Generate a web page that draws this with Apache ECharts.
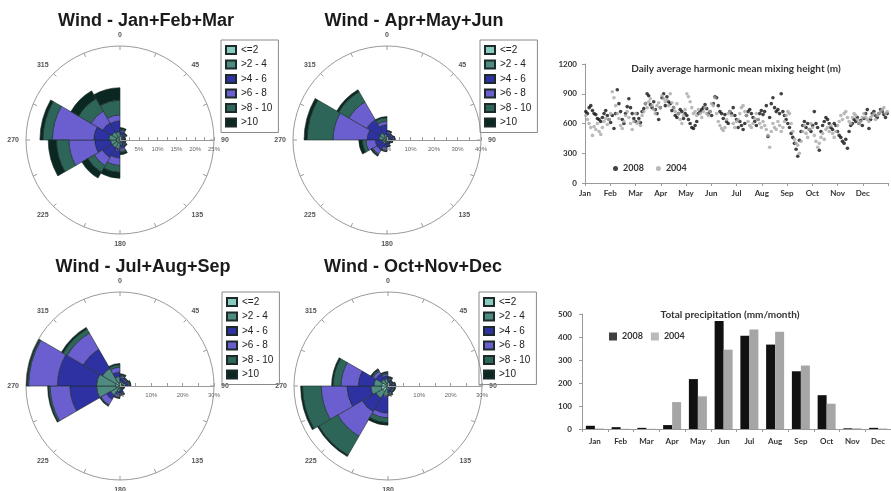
<!DOCTYPE html>
<html><head><meta charset="utf-8">
<script src="https://cdn.jsdelivr.net/npm/echarts@6/dist/echarts.min.js"></script>
<style>html,body{margin:0;padding:0;background:#fff}#c{width:891px;height:491px}</style>
</head><body><div id="c"></div>
<script>
// ---------- DATA ----------
const speedClasses = ['<=2', '>2 - 4', '>4 - 6', '>6 - 8', '>8 - 10', '>10'];
const sectorNames = ['0-30','30-60','60-90','90-120','120-150','150-180','180-210','210-240','240-270','270-300','300-330','330-360'];
const compassLabels = ['0','45','90','135','180','225','270','315'];
const roseTitles = ['Wind - Jan+Feb+Mar', 'Wind - Apr+May+Jun', 'Wind - Jul+Aug+Sep', 'Wind - Oct+Nov+Dec'];
const roseMax = [25, 40, 30, 30];
const roseStep = [5, 10, 10, 10];
// frequency (%) per sector (rows) and speed class (columns)
const roseJFM = [
  [0.6,0.8,0.8,0.4,0.3,0.4],[0.5,0.5,0.5,0.3,0.2,0.2],[0.4,0.4,0.3,0.2,0.1,0.1],[0.4,0.4,0.4,0.2,0.1,0.1],
  [0.5,0.5,0.5,0.3,0.2,0.2],[0.6,0.8,1.0,0.6,0.4,0.5],[0.8,1.5,2.5,2.0,1.8,1.6],[0.9,1.5,3.0,2.5,2.0,1.8],
  [1.0,1.5,4.2,6.9,3.3,2.2],[1.0,2.0,4.0,11.0,2.5,0.8],[1.0,1.5,2.8,3.6,3.8,2.4],[0.8,1.4,2.9,1.6,3.9,3.3]
];
const roseAMJ = [
  [0.6,0.9,1.4,0.7,0.2,0.2],[0.5,0.7,1.0,0.5,0.2,0.1],[0.6,0.8,1.2,0.6,0.2,0.1],[0.5,0.6,0.8,0.4,0.1,0.1],
  [0.4,0.5,0.6,0.3,0.1,0.1],[0.5,0.6,1.0,0.5,0.2,0.2],[0.6,0.8,2.0,1.0,0.3,0.3],[0.8,1.2,3.0,2.0,0.5,0.5],
  [0.8,1.2,3.0,4.0,1.5,1.5],[1.5,2.0,5.0,14.5,11.0,1.3],[1.5,2.0,6.5,8.7,5.0,1.0],[1.0,1.5,4.0,1.5,1.5,0.5]
];
const roseJAS = [
  [0.6,1.0,1.0,0.6,0.4,0.3],[0.6,0.8,0.7,0.4,0.3,0.2],[0.8,1.0,0.8,0.4,0.3,0.2],[0.4,0.4,0.3,0.2,0.1,0.1],
  [0.4,0.4,0.3,0.2,0.1,0.1],[0.6,0.8,0.8,0.4,0.2,0.2],[0.7,1.2,1.0,0.7,0.2,0.2],[1.0,2.5,1.5,2.0,0.3,0.2],
  [1.3,6.2,8.5,6.3,0.5,0.3],[1.5,6.0,12.5,9.2,0.4,0.3],[1.5,5.0,7.0,6.0,1.5,0.6],[1.0,2.0,1.5,1.5,0.8,0.4]
];
const roseOND = [
  [0.6,0.8,0.6,0.4,0.3,0.3],[0.4,0.5,0.4,0.3,0.2,0.2],[0.5,0.6,0.5,0.4,0.3,0.2],[0.5,0.6,0.5,0.4,0.3,0.2],
  [0.5,0.6,0.5,0.4,0.3,0.2],[0.6,0.8,0.7,0.5,0.3,0.2],[1.2,2.0,5.5,1.5,1.5,0.8],[2.0,2.5,5.0,9.0,7.0,0.5],
  [2.2,3.3,7.6,8.2,6.0,0.6],[2.0,2.5,5.0,5.5,2.5,0.5],[1.0,1.5,2.0,1.0,0.5,0.4],[0.8,1.5,1.0,0.6,0.4,0.3]
];
const months = ['Jan','Feb','Mar','Apr','May','Jun','Jul','Aug','Sep','Oct','Nov','Dec'];
// daily mixing height (m), sampled every 2nd day
const mix2008 = [720,700,760,780,730,700,690,650,640,620,660,700,730,680,640,610,
 680,550,700,940,800,720,640,600,700,770,850,760,700,650,620,
 700,650,610,720,750,800,900,880,790,760,820,740,700,640,760,
 860,900,780,870,820,800,730,760,680,660,700,740,720,650,700,
 680,640,600,560,550,580,620,700,720,740,760,790,750,700,720,680,
 800,870,860,780,720,700,650,690,620,600,720,700,760,680,640,
 560,620,580,540,600,680,720,740,700,660,620,580,640,700,730,690,
 720,780,470,660,800,860,760,720,740,700,900,720,680,640,600,
 560,500,460,400,340,270,430,520,580,620,560,600,540,520,580,
 720,600,560,330,520,580,620,660,640,600,560,540,600,580,520,480,
 460,420,400,440,350,520,580,600,640,620,660,600,630,580,650,
 700,740,550,640,700,720,680,660,700,740,720,690,660,700,680];
const mix2004 = [680,640,600,560,480,570,540,600,520,490,560,620,650,590,640,700,
 920,860,780,700,650,580,550,620,680,720,660,600,540,620,700,
 600,620,580,680,720,800,760,820,850,780,740,700,780,810,760,
 880,850,820,840,780,900,810,760,720,800,700,640,600,680,740,
 900,870,820,760,700,720,680,740,700,660,720,760,700,680,720,800,
 780,860,700,620,580,550,530,560,640,700,720,680,600,560,620,
 640,700,760,780,720,680,620,580,560,600,650,700,640,600,560,620,
 580,540,480,360,520,600,560,540,620,580,520,560,620,680,720,
 700,600,520,440,400,380,300,420,520,580,500,460,540,600,560,
 480,420,360,400,460,500,440,540,560,520,580,500,460,520,580,620,
 680,640,700,720,660,620,600,660,700,680,640,600,620,660,700,
 660,640,620,660,680,700,640,680,700,720,740,760,700,720,760];
const precip2008 = [14,8,5,17,217,470,405,367,251,147,3,5];
const precip2004 = [2,1,1,117,142,345,433,423,276,110,3,2];

// ---------- STYLE / LAYOUT ----------
const classColors = ['#86cbbd','#4f8b80','#2e31a2','#6b5fd0','#2d6658','#0b2722'];
const roseCenters = [[120,140],[387,140],[120,386],[388,386]];
const roseR = 94;
const titlePos = [[141,7],[409,7],[138,253],[408,253]];
const legendPos = [[221,40],[480,40],[222,292],[479,292]];
const F = 'Liberation Sans, Arial, sans-serif';
const XF = 'Lato, Open Sans, sans-serif';
const roses = [roseJFM, roseAMJ, roseJAS, roseOND];

const polar = [], angleAxis = [], radiusAxis = [], series = [], title = [], legend = [];
roses.forEach((rose, k) => {
  // bars polar
  polar.push({center: roseCenters[k], radius: roseR});
  angleAxis.push({polarIndex: 2*k, type: 'category', data: sectorNames, startAngle: 90, clockwise: true,
    show: false, axisLine:{show:false}, axisLabel:{show:false}, axisTick:{show:false}, splitLine:{show:false}});
  radiusAxis.push({polarIndex: 2*k, type: 'value', min: 0, max: roseMax[k], show: false,
    axisLine:{show:false}, axisLabel:{show:false}, axisTick:{show:false}, splitLine:{show:false}});
  // axes polar
  polar.push({center: roseCenters[k], radius: roseR});
  angleAxis.push({polarIndex: 2*k+1, type: 'value', min: 0, max: 360, interval: 45, startAngle: 0, clockwise: true,
    axisLine:{lineStyle:{color:'#9a9a9a', width:1}},
    axisTick:{show:true, inside:true, length:4, lineStyle:{color:'#9a9a9a'}},
    minorTick:{show:true, splitNumber:2, length:4, lineStyle:{color:'#9a9a9a'}},
    splitLine:{show:false},
    axisLabel:{fontSize:7, fontFamily:F, fontWeight:'bold', color:'#555', margin:7,
      formatter: v => v >= 360 ? '' : compassLabels[Math.round(((v + 90) % 360) / 45)]}});
  radiusAxis.push({polarIndex: 2*k+1, type: 'value', min: 0, max: roseMax[k], interval: roseStep[k], z: 5,
    axisLine:{lineStyle:{color:'#9a9a9a', width:1}},
    axisTick:{show:true, length:3, lineStyle:{color:'#9a9a9a'}},
    minorTick:{show:true, splitNumber:2, length:3, lineStyle:{color:'#9a9a9a'}},
    splitLine:{show:false},
    axisLabel:{fontSize:6, fontFamily:F, color:'#666', formatter:'{value}%', margin:-6, verticalAlign:'top'}});
  speedClasses.forEach((cls, c) => {
    series.push({type:'bar', name: cls, coordinateSystem:'polar', polarIndex: 2*k, stack: 'rose'+k,
      barCategoryGap: '0%', data: rose.map(row => row[c]), z: 2,
      itemStyle:{color: classColors[c], borderColor:'#1c2b2a', borderWidth:0.6}});
  });
  title.push({text: roseTitles[k], left: titlePos[k][0], top: titlePos[k][1], textAlign: 'center',
    textStyle:{fontSize:18, fontWeight:'bold', fontFamily:F, color:'#1a1a1a'}});
  legend.push({data: speedClasses, orient:'vertical', left: legendPos[k][0], top: legendPos[k][1],
    icon:'rect', itemWidth:10, itemHeight:8, itemGap:4.5, padding:[5,6,5,4],
    borderColor:'#8a8a8a', borderWidth:1, selectedMode:false,
    textStyle:{fontSize:10, fontFamily:F, color:'#222'}});
});

// scatter
series.push({type:'scatter', name:'2008', xAxisIndex:0, yAxisIndex:0, symbolSize:3.6,
  itemStyle:{color:'#111'}, data: mix2008.map((v,i) => [i*2+1, v])});
series.push({type:'scatter', name:'2004', xAxisIndex:0, yAxisIndex:0, symbolSize:3.6,
  itemStyle:{color:'#a9a9a9'}, data: mix2004.map((v,i) => [i*2+1, v])});
// bars
series.push({type:'bar', name:'2008', xAxisIndex:1, yAxisIndex:1, barWidth:9, barGap:'0%',
  itemStyle:{color:'#111'}, data: precip2008});
series.push({type:'bar', name:'2004', xAxisIndex:1, yAxisIndex:1, barWidth:9, barGap:'0%',
  itemStyle:{color:'#a6a6a6'}, data: precip2004});

title.push({text:'Daily average harmonic mean mixing height (m)', left:731, top:59, textAlign:'center',
  textStyle:{fontSize:10, fontWeight:'bold', fontFamily:XF, color:'#333'}});
title.push({text:'Total precipitation (mm/month)', left:725, top:305, textAlign:'center',
  textStyle:{fontSize:10, fontWeight:'bold', fontFamily:XF, color:'#333'}});
legend.push({data:['2008','2004'], left:608, top:159, icon:'circle', itemWidth:5, itemHeight:5, itemGap:12,
  selectedMode:false, textStyle:{fontSize:9, fontFamily:XF, color:'#333', fontWeight:'bold'}});
legend.push({data:['2008','2004'], left:604, top:327, icon:'rect', itemWidth:8, itemHeight:8, itemGap:8,
  selectedMode:false, textStyle:{fontSize:9, fontFamily:XF, color:'#333', fontWeight:'bold'}});

const axisTxt = {fontSize:8, fontFamily:XF, color:'#333', fontWeight:'bold'};
const option = {
  animation:false,
  backgroundColor:'#fff',
  title, legend, polar, angleAxis, radiusAxis,
  grid:[{left:585, top:64, width:303, height:119},{left:582, top:314, width:313, height:115}],
  xAxis:[
    {gridIndex:0, type:'value', min:0, max:366, interval:30.5,
     axisLine:{lineStyle:{color:'#9a9a9a'}}, axisTick:{show:true, length:3, lineStyle:{color:'#9a9a9a'}},
     splitLine:{show:false},
     axisLabel:{...axisTxt, margin:6, formatter: v => months[Math.round(v/30.5)] || ''}},
    {gridIndex:1, type:'category', data: months,
     axisLine:{lineStyle:{color:'#9a9a9a'}}, axisTick:{show:true, length:3, lineStyle:{color:'#9a9a9a'}},
     axisLabel:{...axisTxt, margin:8, interval:0}}
  ],
  yAxis:[
    {gridIndex:0, type:'value', min:0, max:1200, interval:300,
     axisLine:{show:true, lineStyle:{color:'#9a9a9a'}}, axisTick:{show:true, length:3, lineStyle:{color:'#9a9a9a'}},
     splitLine:{show:false}, axisLabel:{...axisTxt, margin:8, formatter: v => String(v)}},
    {gridIndex:1, type:'value', min:0, max:500, interval:100,
     axisLine:{show:true, lineStyle:{color:'#9a9a9a'}}, axisTick:{show:true, length:3, lineStyle:{color:'#9a9a9a'}},
     splitLine:{show:false}, axisLabel:{...axisTxt, margin:10}}
  ],
  series
};
const chart = echarts.init(document.getElementById('c'), null, {renderer:'canvas'});
chart.setOption(option);
</script>
</body></html>
